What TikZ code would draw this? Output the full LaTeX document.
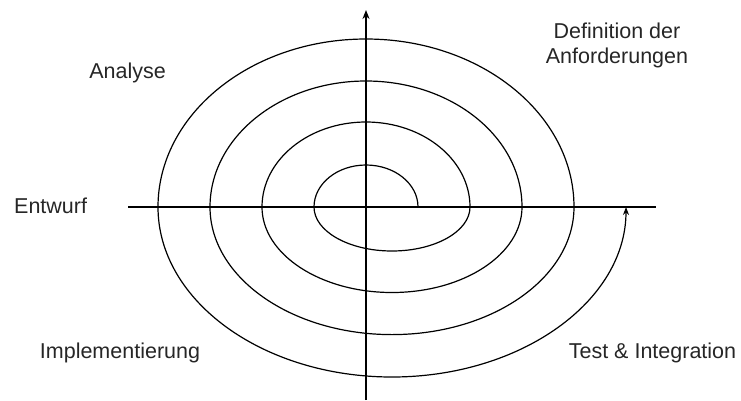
\documentclass[tikz,border=0pt]{standalone}
\usepackage{fontspec}
\setmainfont{Liberation Sans}
\usetikzlibrary{arrows.meta}
\definecolor{txt}{HTML}{262626}
\begin{document}
\begin{tikzpicture}[x=1pt,y=1pt,
  axis/.style={line width=2pt,black},
  spiral/.style={line width=1.2pt,black},
  lbl/.style={inner sep=0pt,text=txt,font=\fontsize{21.5}{25}\selectfont,align=center}]
\useasboundingbox (0,0) rectangle (741,-400);
% axes
\coordinate (vb) at (366,-400);
\coordinate (vt) at (366,-10);
\coordinate (hl) at (128,-207);
\coordinate (hr) at (656,-207);
\draw[axis,-{Stealth[length=9pt,width=7pt]}] (vb) -- (vt);
\draw[axis] (hl) -- (hr);
% spiral
\coordinate (s0) at (418,-207);
\draw[spiral,-{Stealth[length=8pt,width=6pt]}] (s0)
  arc[start angle=0,end angle=180,x radius=52,y radius=42]
  arc[start angle=180,end angle=360,x radius=78,y radius=44]
  arc[start angle=0,end angle=180,x radius=104,y radius=85]
  arc[start angle=180,end angle=360,x radius=130,y radius=85.5]
  arc[start angle=0,end angle=180,x radius=156,y radius=126]
  arc[start angle=180,end angle=360,x radius=182,y radius=127.6]
  arc[start angle=0,end angle=180,x radius=208,y radius=168]
  arc[start angle=180,end angle=360,x radius=234,y radius=170];
% labels
\node[lbl,anchor=base] (analyse) at (127.5,-78.3) {Analyse};
\node[lbl,anchor=base] (def) at (617,-63.5) {Definition der\\Anforderungen};
\node[lbl,anchor=base west] (entwurf) at (14,-213.3) {Entwurf};
\node[lbl,anchor=base] (impl) at (120,-358.5) {Implementierung};
\node[lbl,anchor=base] (test) at (652.5,-358.5) {Test \& Integration};
\end{tikzpicture}
\end{document}
